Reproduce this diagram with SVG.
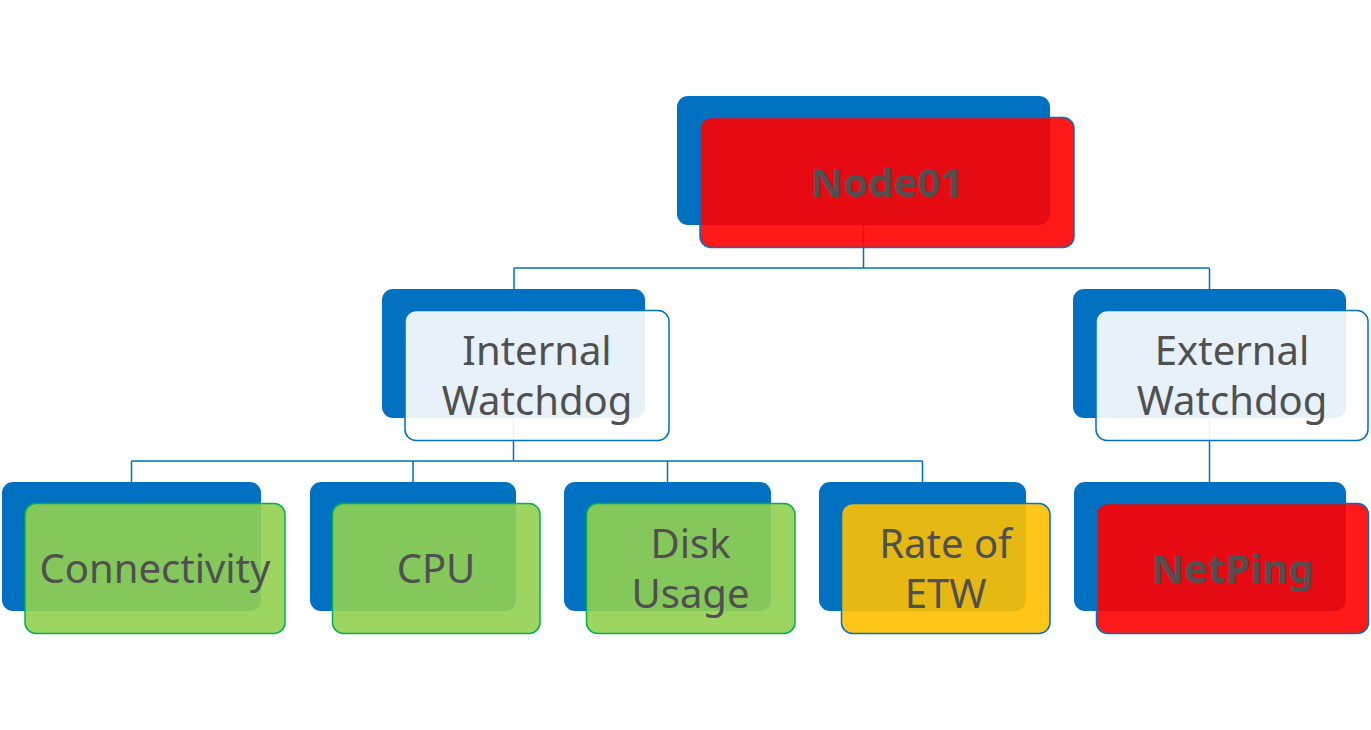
<svg xmlns="http://www.w3.org/2000/svg" width="1371" height="730" viewBox="0 0 1371 730">
<style>
.back{fill:#0070C0}
.front{stroke-width:1.5}
.red{fill:#FF0000;fill-opacity:0.9;stroke:#0070C0}
.white{fill:#FFFFFF;fill-opacity:0.9;stroke:#0070C0}
.green{fill:#92D050;fill-opacity:0.9;stroke:#00B050}
.yellow{fill:#FFC000;fill-opacity:0.9;stroke:#0070C0}
.lbl{font-family:"Noto Sans","Open Sans",sans-serif;font-size:40px;fill:#505050;text-anchor:middle}
.bold{font-weight:bold}
.conn{fill:none;stroke:#0070C0;stroke-width:1.5}
</style>
<rect width="1371" height="730" fill="#FFFFFF"/>
<g id="connectors">
<path class="conn" d="M863.5,225 V268 M514,268 H1209.5 M514,268 V289 M1209.5,268 V289"/>
<path class="conn" d="M513.5,418 V461 M131.5,461 H922.5 M131.5,461 V482 M413,461 V482 M667.5,461 V482 M922.5,461 V482"/>
<path class="conn" d="M1209.5,418 V482"/>
</g>
<g id="node01">
<rect class="back" x="677" y="96" width="373" height="129" rx="11"/>
<rect class="front red" x="700" y="117.5" width="374" height="130" rx="11"/>
<text class="lbl bold" x="887" y="197">Node01</text>
</g>
<g id="internal-watchdog">
<rect class="back" x="382" y="289" width="263" height="129" rx="11"/>
<rect class="front white" x="405" y="310.5" width="264" height="130" rx="11"/>
<text class="lbl" x="537" y="365">Internal</text>
<text class="lbl" x="537" y="415">Watchdog</text>
</g>
<g id="external-watchdog">
<rect class="back" x="1073" y="289" width="273" height="129" rx="11"/>
<rect class="front white" x="1096" y="310.5" width="272" height="130" rx="11"/>
<text class="lbl" x="1232" y="365">External</text>
<text class="lbl" x="1232" y="415">Watchdog</text>
</g>
<g id="connectivity">
<rect class="back" x="2" y="482" width="259" height="129" rx="11"/>
<rect class="front green" x="25" y="503.5" width="260" height="130" rx="11"/>
<text class="lbl" x="155" y="583">Connectivity</text>
</g>
<g id="cpu">
<rect class="back" x="310" y="482" width="206" height="129" rx="11"/>
<rect class="front green" x="332.5" y="503.5" width="207.5" height="130" rx="11"/>
<text class="lbl" x="436" y="583">CPU</text>
</g>
<g id="disk-usage">
<rect class="back" x="564" y="482" width="207" height="129" rx="11"/>
<rect class="front green" x="586.5" y="503.5" width="208.5" height="130" rx="11"/>
<text class="lbl" x="690.5" y="558">Disk</text>
<text class="lbl" x="690.5" y="608">Usage</text>
</g>
<g id="rate-of-etw">
<rect class="back" x="819" y="482" width="207" height="129" rx="11"/>
<rect class="front yellow" x="841.5" y="503.5" width="208.5" height="130" rx="11"/>
<text class="lbl" x="945.5" y="558">Rate of</text>
<text class="lbl" x="945.5" y="608">ETW</text>
</g>
<g id="netping">
<rect class="back" x="1074" y="482" width="272" height="129" rx="11"/>
<rect class="front red" x="1096.5" y="503.5" width="272" height="130" rx="11"/>
<text class="lbl bold" x="1232.5" y="583">NetPing</text>
</g>
</svg>
